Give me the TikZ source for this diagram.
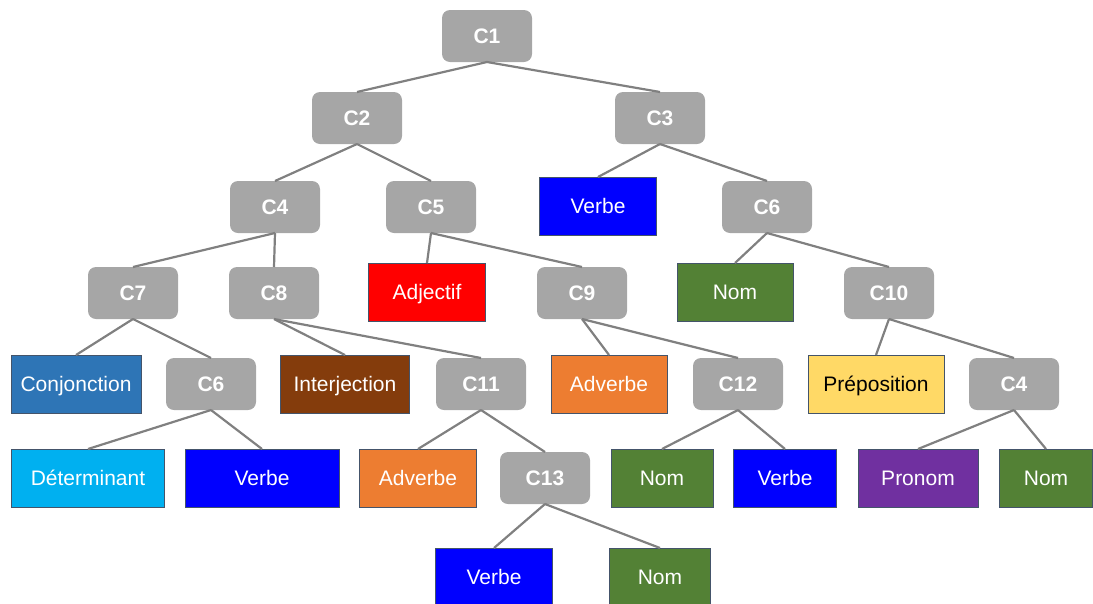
\documentclass[tikz,border=0pt]{standalone}
\usepackage{fontspec}
\setmainfont{Liberation Sans}
\definecolor{inner}{HTML}{A6A6A6}
\definecolor{edgegray}{HTML}{808080}
\definecolor{leafline}{HTML}{44546A}
\definecolor{verbe}{HTML}{0000FF}
\definecolor{adjectif}{HTML}{FF0000}
\definecolor{nom}{HTML}{538135}
\definecolor{conjonction}{HTML}{2E75B6}
\definecolor{interjection}{HTML}{843C0C}
\definecolor{adverbe}{HTML}{ED7D31}
\definecolor{preposition}{HTML}{FFD966}
\definecolor{determinant}{HTML}{00B0F0}
\definecolor{pronom}{HTML}{7030A0}
\begin{document}
\begin{tikzpicture}[x=1pt,y=-1pt,
  cat/.style={fill=inner, rounded corners=8pt, minimum width=90pt, minimum height=52pt,
    inner sep=0pt, outer sep=0pt, text=white, text height=15pt, text depth=0pt,
    font=\fontsize{21}{25}\selectfont\bfseries},
  leaf/.style={fill=#1, draw=leafline, line width=1pt, minimum height=58pt,
    inner sep=0pt, outer sep=0pt, text=white, text height=15pt, text depth=0pt,
    font=\fontsize{21}{25}\selectfont},
  link/.style={draw=edgegray, line width=2.2pt}]
\useasboundingbox (0,0) rectangle (1093,603);
% internal constituents
\node[cat] (c1) at (487,36) {C1};
\node[cat] (c2) at (357,118) {C2};
\node[cat] (c3) at (660,118) {C3};
\node[cat] (c4) at (275,207) {C4};
\node[cat] (c5) at (431,207) {C5};
\node[cat] (c6r) at (767,207) {C6};
\node[cat] (c7) at (133,293) {C7};
\node[cat] (c8) at (274,293) {C8};
\node[cat] (c9) at (582,293) {C9};
\node[cat] (c10) at (889,293) {C10};
\node[cat] (c6l) at (211,384) {C6};
\node[cat] (c11) at (481,384) {C11};
\node[cat] (c12) at (738,384) {C12};
\node[cat] (c4r) at (1014,384) {C4};
\node[cat] (c13) at (545,478) {C13};
% word classes
\node[leaf=verbe, minimum width=117pt] (vb1) at (598,206) {Verbe};
\node[leaf=adjectif, minimum width=117pt] (adj) at (427,292) {Adjectif};
\node[leaf=nom, minimum width=116pt] (nom1) at (735,292) {Nom};
\node[leaf=conjonction, minimum width=130pt] (conj) at (76,384) {Conjonction};
\node[leaf=interjection, minimum width=129pt] (interj) at (345,384) {Interjection};
\node[leaf=adverbe, minimum width=116pt] (adv1) at (609,384) {Adverbe};
\node[leaf=preposition, minimum width=136pt, text=black] (prep) at (876,384) {Préposition};
\node[leaf=determinant, minimum width=153pt] (det) at (88,478) {Déterminant};
\node[leaf=verbe, minimum width=154pt] (vb2) at (262,478) {Verbe};
\node[leaf=adverbe, minimum width=117pt] (adv2) at (418,478) {Adverbe};
\node[leaf=nom, minimum width=102pt] (nom2) at (662,478) {Nom};
\node[leaf=verbe, minimum width=103pt] (vb3) at (785,478) {Verbe};
\node[leaf=pronom, minimum width=120pt] (pron) at (918,478) {Pronom};
\node[leaf=nom, minimum width=93pt] (nom3) at (1046,478) {Nom};
\node[leaf=verbe, minimum width=117pt] (vb4) at (494,577) {Verbe};
\node[leaf=nom, minimum width=101pt] (nom4) at (660,577) {Nom};
% tree branches
\foreach \p/\c in {c1/c2, c1/c3, c2/c4, c2/c5, c3/vb1, c3/c6r, c4/c7, c4/c8,
    c5/adj, c5/c9, c6r/nom1, c6r/c10, c7/conj, c7/c6l, c8/interj, c8/c11,
    c9/adv1, c9/c12, c10/prep, c10/c4r, c6l/det, c6l/vb2, c11/adv2, c11/c13,
    c12/nom2, c12/vb3, c4r/pron, c4r/nom3, c13/vb4, c13/nom4}
  \draw[link] (\p.south) -- (\c.north);
\end{tikzpicture}
\end{document}
